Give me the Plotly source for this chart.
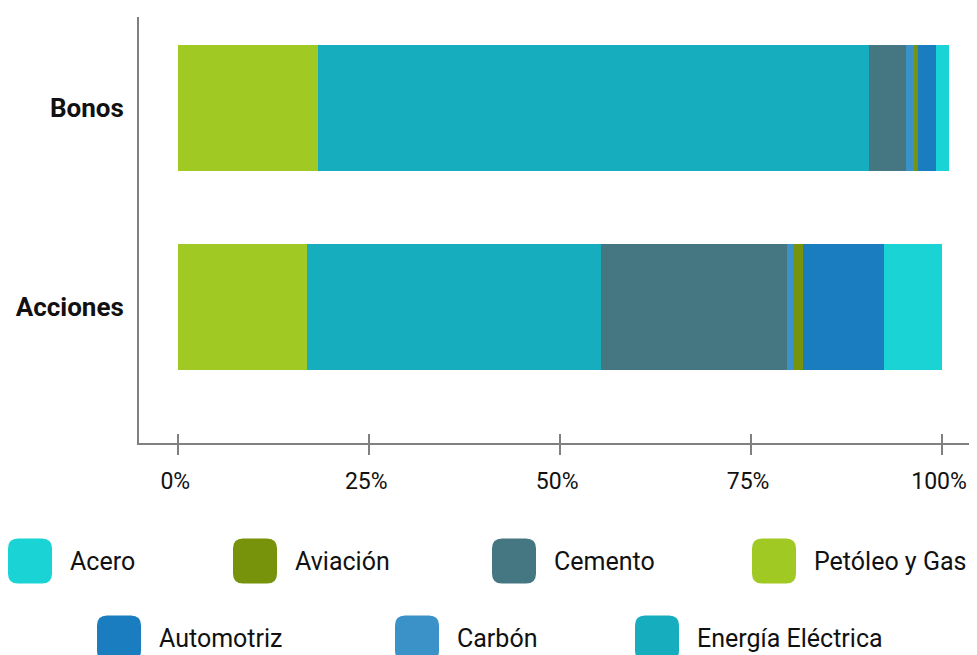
import plotly.graph_objects as go

# data (shares of each portfolio, %)
categories = ["Acciones", "Bonos"]
sectors = ["Petóleo y Gas", "Energía Eléctrica", "Cemento", "Carbón", "Aviación", "Automotriz", "Acero"]
acciones = [16.85, 38.5, 24.36, 0.82, 1.27, 10.61, 7.59]
bonos = [18.29, 72.15, 4.80, 1.05, 0.56, 2.36, 1.70]
colors = ["#A1C923", "#16ADBE", "#457782", "#3A92C8", "#76930B", "#1A7DC0", "#19D3D5"]
tick_vals = [0, 0.25, 0.5, 0.75, 1.0]
tick_text = ["0%", "25%", "50%", "75%", "100%"]

# legend layout: two rows, second row centred
legend_rows = [
    ["Acero", "Aviación", "Cemento", "Petóleo y Gas"],
    ["Automotriz", "Carbón", "Energía Eléctrica"],
]

OFF = 8  # page body margin
W, H = 977 - OFF, 655 - OFF
L, R, T, B = 139 - OFF, 0, 17 - OFF, 212
FONT = "Roboto"
AXIS_GRAY = "#808080"
TXT = "#111111"

fig = go.Figure()
for i, name in enumerate(sectors):
    fig.add_trace(go.Bar(
        y=categories, x=[acciones[i] / 100, bonos[i] / 100], name=name,
        orientation="h", marker=dict(color=colors[i], line=dict(width=0)),
        width=0.633, showlegend=False,
    ))
# dummy trace so the second (inside-tick) axis is drawn
fig.add_trace(go.Scatter(x=[], y=[], xaxis="x2", showlegend=False, hoverinfo="skip"))

xr = [-0.0515, 1.0458]
fig.update_layout(
    width=W, height=H, margin=dict(l=L, r=R, t=T, b=B),
    barmode="stack", plot_bgcolor="white", paper_bgcolor="white",
    font=dict(family=FONT, size=25, color=TXT),
    xaxis=dict(range=xr, tickvals=tick_vals, ticktext=tick_text, showgrid=False,
               zeroline=False, showline=True, linecolor=AXIS_GRAY, linewidth=2,
               ticks="outside", ticklen=10, tickwidth=2, tickcolor=AXIS_GRAY,
               ticklabeloverflow="allow", ticklabelshift=-3,
               tickfont=dict(family=FONT, size=23, color=TXT), ticklabelstandoff=6),
    xaxis2=dict(range=xr, overlaying="x", anchor="y", side="bottom", tickvals=tick_vals,
                showticklabels=False, showgrid=False, zeroline=False, showline=False,
                ticks="inside", ticklen=9, tickwidth=2, tickcolor=AXIS_GRAY),
    yaxis=dict(range=[-0.683, 1.457], showgrid=False, zeroline=False, showline=True,
               linecolor=AXIS_GRAY, linewidth=2, ticks="", ticklabelstandoff=8,
               tickfont=dict(family=FONT, size=26, color=TXT, weight="bold")),
    showlegend=False,
)


def px_to_paper_x(px):
    return (px - OFF - L) / (W - L - R)


def px_to_paper_y(py):
    return (H - B - (py - OFF)) / (H - T - B)


# rounded swatch path, centred on its anchor, in pixels
hw, hh, r = 22, 22.5, 10
swatch = (f"M {-hw + r},{-hh} L {hw - r},{-hh} Q {hw},{-hh} {hw},{-hh + r} "
          f"L {hw},{hh - r} Q {hw},{hh} {hw - r},{hh} L {-hw + r},{hh} "
          f"Q {-hw},{hh} {-hw},{hh - r} L {-hw},{-hh + r} Q {-hw},{-hh} {-hw + r},{-hh} Z")

row_y = [561, 638]
row_x = [[30, 255, 514, 774], [119, 417, 657]]
for ri, row in enumerate(legend_rows):
    for ci, name in enumerate(row):
        cx = row_x[ri][ci]
        fig.add_shape(type="path", path=swatch, xref="paper", yref="paper",
                      xsizemode="pixel", ysizemode="pixel",
                      xanchor=px_to_paper_x(cx), yanchor=px_to_paper_y(row_y[ri]),
                      fillcolor=colors[sectors.index(name)], line=dict(width=0))
        fig.add_annotation(text=name, xref="paper", yref="paper",
                           x=px_to_paper_x(cx + 38), y=px_to_paper_y(row_y[ri]),
                           xanchor="left", yanchor="middle", showarrow=False,
                           font=dict(family=FONT, size=25, color=TXT))

fig.write_html("out.html")
